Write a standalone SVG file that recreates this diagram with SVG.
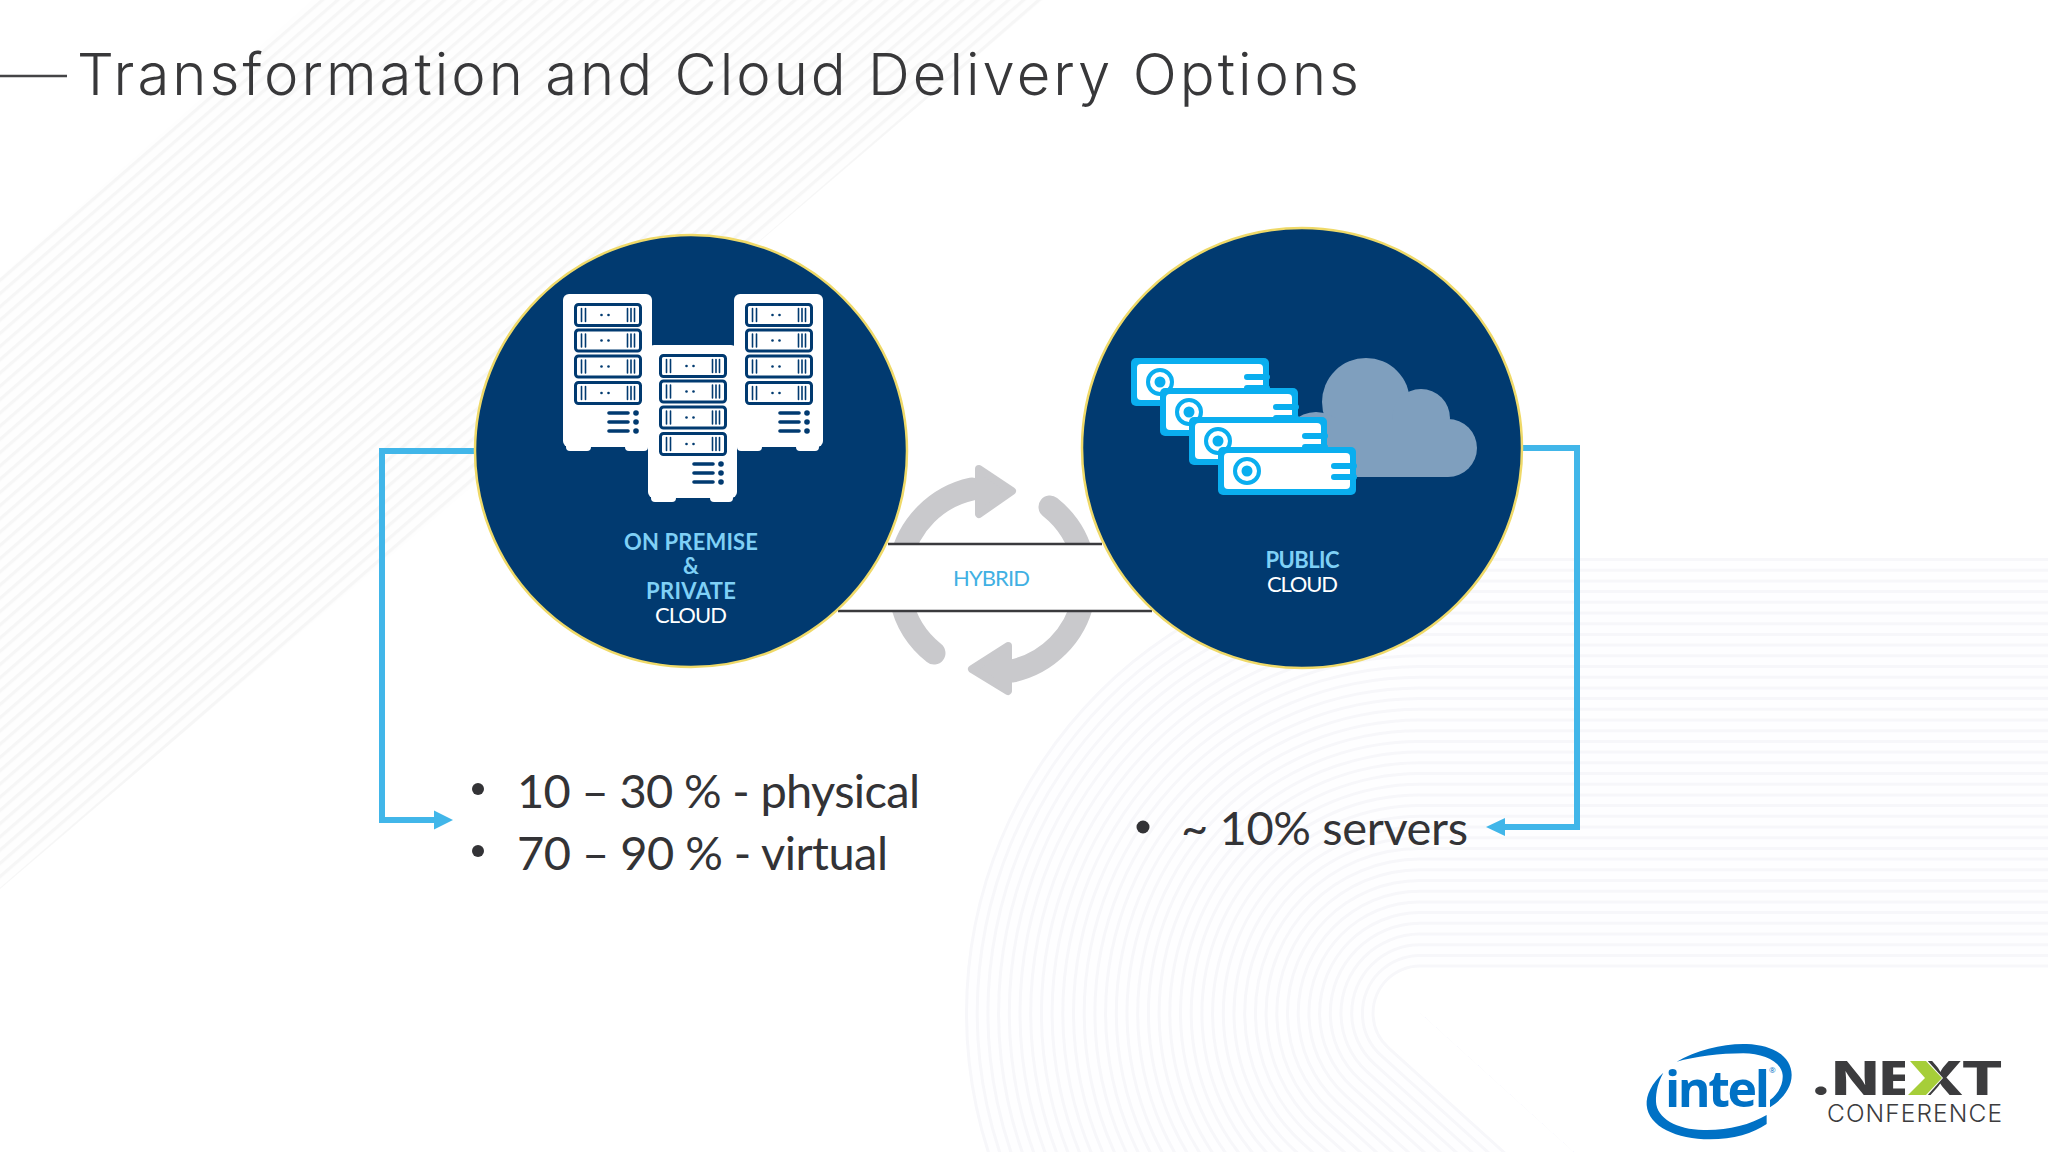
<svg xmlns="http://www.w3.org/2000/svg" width="2048" height="1152" viewBox="0 0 2048 1152">
<style>
.ln{stroke:#f7f7fa}
.gp{stroke:#fefeff}
.cal{font-family:"Lato","Carlito","Open Sans",sans-serif;font-variant-ligatures:none}
.body{font-size:47px;fill:#333336}
.lbl{font-size:22px;text-anchor:middle}
.hi{fill:#7fd0f6;font-weight:700}
.wh{fill:#fff}
.conn{fill:none;stroke:#41b6e9;stroke-width:6}
.head{fill:#41b6e9}
.hline{stroke:#3a3a3d;stroke-width:2.5}
.cyc{fill:none;stroke:#c9c9cc;stroke-width:23;stroke-linecap:round}
.cyh{fill:#c9c9cc;stroke:#c9c9cc;stroke-width:8;stroke-linejoin:round}
.disc{fill:#013a70;stroke:#efd968;stroke-width:2.5}
.navy{fill:none;stroke:#013a70;stroke-linecap:round}
</style>
<defs>
<pattern id="diag" width="20" height="10" patternUnits="userSpaceOnUse" patternTransform="rotate(-41)">
<rect width="20" height="10" fill="#fefefe"/>
<rect width="20" height="3.2" fill="#f6f6f6"/>
</pattern>
<path id="wave" d="M2120 1013H1420L2160 1683" fill="none" stroke-linejoin="round"/>
<clipPath id="waveclip"><path d="M0 0H2048V1013H1420L2160 1683H0Z"/></clipPath>
<g id="slot">
<rect x="0" y="0" width="65" height="21" rx="3" fill="#fff" stroke="#013a70" stroke-width="3"/>
<path class="navy" stroke-width="1.6" d="M6 4V17M10 4V17M52 4V17M55.5 4V17M59 4V17"/>
<circle cx="26" cy="10.5" r="1.3" fill="#013a70"/><circle cx="33" cy="10.5" r="1.3" fill="#013a70"/>
</g>
<g id="rack">
<rect x="0" y="0" width="89" height="153" rx="6" fill="#fff"/>
<rect x="3" y="148" width="25" height="9" rx="4" fill="#fff"/>
<rect x="62" y="148" width="23" height="9" rx="4" fill="#fff"/>
<use href="#slot" x="12.5" y="10.5"/><use href="#slot" x="12.5" y="36"/><use href="#slot" x="12.5" y="62"/><use href="#slot" x="12.5" y="88.500"/>
<path class="navy" stroke-width="3.6" d="M46 119H65M46 128H65M46 137H65"/>
<circle cx="73" cy="119" r="2.8" fill="#013a70"/><circle cx="73" cy="128" r="2.8" fill="#013a70"/><circle cx="73" cy="137" r="2.8" fill="#013a70"/>
</g>
<g id="blade">
<rect width="138" height="48" rx="5" fill="#0aaeef"/>
<rect x="6" y="6" width="126" height="36" rx="4" fill="#fff"/>
<path d="M116 19H136M116 30H136" fill="none" stroke="#0aaeef" stroke-width="6" stroke-linecap="round"/>
<circle cx="29" cy="24" r="12" fill="#fff" stroke="#0aaeef" stroke-width="4"/>
<circle cx="29" cy="24" r="5.500" fill="#0aaeef"/>
</g>
</defs>

<rect width="2048" height="1152" fill="#fff"/>
<g id="background">
<polygon points="0,277 312,0 1043,0 0,889" fill="url(#diag)"/>
<g clip-path="url(#waveclip)">
<use href="#wave" class="ln" stroke-width="910"/><use href="#wave" class="gp" stroke-width="904"/>
<use href="#wave" class="ln" stroke-width="888.6"/><use href="#wave" class="gp" stroke-width="882.6"/>
<use href="#wave" class="ln" stroke-width="867.2"/><use href="#wave" class="gp" stroke-width="861.2"/>
<use href="#wave" class="ln" stroke-width="845.8"/><use href="#wave" class="gp" stroke-width="839.8"/>
<use href="#wave" class="ln" stroke-width="824.4"/><use href="#wave" class="gp" stroke-width="818.4"/>
<use href="#wave" class="ln" stroke-width="803"/><use href="#wave" class="gp" stroke-width="797"/>
<use href="#wave" class="ln" stroke-width="781.6"/><use href="#wave" class="gp" stroke-width="775.6"/>
<use href="#wave" class="ln" stroke-width="760.2"/><use href="#wave" class="gp" stroke-width="754.2"/>
<use href="#wave" class="ln" stroke-width="738.8"/><use href="#wave" class="gp" stroke-width="732.8"/>
<use href="#wave" class="ln" stroke-width="717.4"/><use href="#wave" class="gp" stroke-width="711.4"/>
<use href="#wave" class="ln" stroke-width="696"/><use href="#wave" class="gp" stroke-width="690"/>
<use href="#wave" class="ln" stroke-width="674.6"/><use href="#wave" class="gp" stroke-width="668.6"/>
<use href="#wave" class="ln" stroke-width="653.2"/><use href="#wave" class="gp" stroke-width="647.2"/>
<use href="#wave" class="ln" stroke-width="631.8"/><use href="#wave" class="gp" stroke-width="625.8"/>
<use href="#wave" class="ln" stroke-width="610.4"/><use href="#wave" class="gp" stroke-width="604.4"/>
<use href="#wave" class="ln" stroke-width="589"/><use href="#wave" class="gp" stroke-width="583"/>
<use href="#wave" class="ln" stroke-width="567.6"/><use href="#wave" class="gp" stroke-width="561.6"/>
<use href="#wave" class="ln" stroke-width="546.2"/><use href="#wave" class="gp" stroke-width="540.2"/>
<use href="#wave" class="ln" stroke-width="524.8"/><use href="#wave" class="gp" stroke-width="518.8"/>
<use href="#wave" class="ln" stroke-width="503.4"/><use href="#wave" class="gp" stroke-width="497.4"/>
<use href="#wave" class="ln" stroke-width="482"/><use href="#wave" class="gp" stroke-width="476"/>
<use href="#wave" class="ln" stroke-width="460.6"/><use href="#wave" class="gp" stroke-width="454.6"/>
<use href="#wave" class="ln" stroke-width="439.2"/><use href="#wave" class="gp" stroke-width="433.2"/>
<use href="#wave" class="ln" stroke-width="417.8"/><use href="#wave" class="gp" stroke-width="411.8"/>
<use href="#wave" class="ln" stroke-width="396.4"/><use href="#wave" class="gp" stroke-width="390.4"/>
<use href="#wave" class="ln" stroke-width="375"/><use href="#wave" class="gp" stroke-width="369"/>
<use href="#wave" class="ln" stroke-width="353.6"/><use href="#wave" class="gp" stroke-width="347.6"/>
<use href="#wave" class="ln" stroke-width="332.2"/><use href="#wave" class="gp" stroke-width="326.2"/>
<use href="#wave" class="ln" stroke-width="310.8"/><use href="#wave" class="gp" stroke-width="304.8"/>
<use href="#wave" class="ln" stroke-width="289.4"/><use href="#wave" class="gp" stroke-width="283.4"/>
<use href="#wave" class="ln" stroke-width="268"/><use href="#wave" class="gp" stroke-width="262"/>
<use href="#wave" class="ln" stroke-width="246.6"/><use href="#wave" class="gp" stroke-width="240.6"/>
<use href="#wave" class="ln" stroke-width="225.2"/><use href="#wave" class="gp" stroke-width="219.2"/>
<use href="#wave" class="ln" stroke-width="203.8"/><use href="#wave" class="gp" stroke-width="197.8"/>
<use href="#wave" class="ln" stroke-width="182.4"/><use href="#wave" class="gp" stroke-width="176.4"/>
<use href="#wave" class="ln" stroke-width="161"/><use href="#wave" class="gp" stroke-width="155"/>
<use href="#wave" class="ln" stroke-width="139.6"/><use href="#wave" class="gp" stroke-width="133.6"/>
<use href="#wave" class="ln" stroke-width="118.2"/><use href="#wave" class="gp" stroke-width="112.2"/>
<use href="#wave" class="ln" stroke-width="96.8"/><use href="#wave" stroke="#fff" stroke-width="91"/>
</g>
</g>

<g id="title">
<line x1="0" y1="76" x2="67" y2="76" stroke="#444446" stroke-width="2.5"/>
<text x="77" y="95" textLength="1282" font-family="Inter,sans-serif" font-weight="300" font-size="58" fill="#38383a" style="font-variant-ligatures:none">Transformation and Cloud Delivery Options</text>
</g>

<g id="connectors">
<path class="conn" d="M475 451H382V820H436"/>
<polygon class="head" points="434,810.500 453,820 434,829.500"/>
<path class="conn" d="M1522 448H1577V827H1503"/>
<polygon class="head" points="1505,818 1486,827 1505,836"/>
<g id="cycle-arrows">
<path class="cyc" d="M901 560A93 93 0 0 1 972 489"/>
<polygon class="cyh" points="979,469 1012,491 979,514"/>
<path class="cyc" d="M1050 507A93 93 0 0 1 1083 560"/>
<path class="cyc" d="M934 653A93 93 0 0 1 901 600"/>
<path class="cyc" d="M1083 600A93 93 0 0 1 1012 671"/>
<polygon class="cyh" points="1008,646 972,669 1008,691"/>
<rect x="860" y="544" width="270" height="67" fill="#fff"/>
</g>
<line class="hline" x1="888" y1="544" x2="1102" y2="544"/>
<line class="hline" x1="838" y1="611" x2="1152" y2="611"/>
</g>

<g id="hybrid-label">
<text class="cal lbl" x="991.500" y="586" textLength="77" font-size="22" fill="#41b0e3">HYBRID</text>
</g>

<g id="node-onprem">
<circle class="disc" cx="691" cy="451" r="216"/>
<use href="#rack" x="563" y="294"/>
<use href="#rack" x="734" y="294"/>
<use href="#rack" x="648" y="345"/>
<text class="cal lbl hi" x="691" y="550" textLength="134">ON PREMISE</text>
<text class="cal lbl hi" x="691" y="574" textLength="16">&amp;</text>
<text class="cal lbl hi" x="691" y="599" textLength="90">PRIVATE</text>
<text class="cal lbl wh" x="691" y="623" textLength="72">CLOUD</text>
</g>

<g id="node-public">
<circle class="disc" cx="1302" cy="448" r="220"/>
<g fill="#7f9fbe">
<circle cx="1366" cy="402" r="44"/>
<circle cx="1421" cy="418" r="29"/>
<circle cx="1448" cy="448" r="29"/>
<circle cx="1316" cy="445" r="33"/>
<rect x="1316" y="420" width="132" height="57"/>
</g>
<use href="#blade" x="1131" y="358"/>
<use href="#blade" x="1160" y="388"/>
<use href="#blade" x="1189" y="417"/>
<use href="#blade" x="1218" y="447"/>
<text class="cal lbl hi" x="1302.500" y="568" textLength="74">PUBLIC</text>
<text class="cal lbl wh" x="1302.500" y="592" textLength="71">CLOUD</text>
</g>

<g id="list-left">
<circle cx="478" cy="789" r="6" fill="#333336"/>
<circle cx="478" cy="851" r="6" fill="#333336"/>
<text class="cal body" x="517" y="808" textLength="403">10 – 30 % - physical</text>
<text class="cal body" x="517" y="870" textLength="371">70 – 90 % - virtual</text>
</g>

<g id="list-right">
<circle cx="1143" cy="827" r="6.500" fill="#333336"/>
<text class="cal body" x="1181" y="845" textLength="287">~ 10% servers</text>
</g>

<g id="logo-intel">
<g transform="translate(1620 1020) scale(.3333)" fill="#0071c5">
<path d="M130 158C95 190 78 225 80 255C85 320 170 358 270 358C340 358 400 340 440 312L440 285C390 315 320 332 250 330C170 328 110 295 108 245C107 215 115 185 130 158Z"/>
<path d="M170 125C230 90 310 70 380 72C460 75 515 110 515 165C515 205 485 240 450 262L450 240C475 220 490 195 488 165C485 125 430 100 370 100C300 100 225 110 170 125Z"/>
</g>
<text x="1665" y="1107" textLength="105" font-family="Open Sans,sans-serif" font-weight="700" font-size="50" fill="#0071c5">intel</text>
<text x="1769" y="1073" font-family="Open Sans,sans-serif" font-size="8" fill="#0071c5">®</text>
</g>

<g id="logo-next">
<text x="1810" y="1095" textLength="193" lengthAdjust="spacingAndGlyphs" font-family="Inter,sans-serif" font-weight="800" font-size="47" fill="#3c3c3e">.NEXT</text>
<polygon points="1905,1059 1926,1059 1943,1078 1926,1097 1905,1097" fill="#fff"/>
<polygon points="1910,1061 1926,1061 1942,1078 1926,1095 1908,1095 1925,1078" fill="#a6ce39"/>
<text x="1827" y="1122" textLength="175" font-family="Inter,sans-serif" font-weight="300" font-size="24.500" fill="#3c3c3e">CONFERENCE</text>
</g>
</svg>
